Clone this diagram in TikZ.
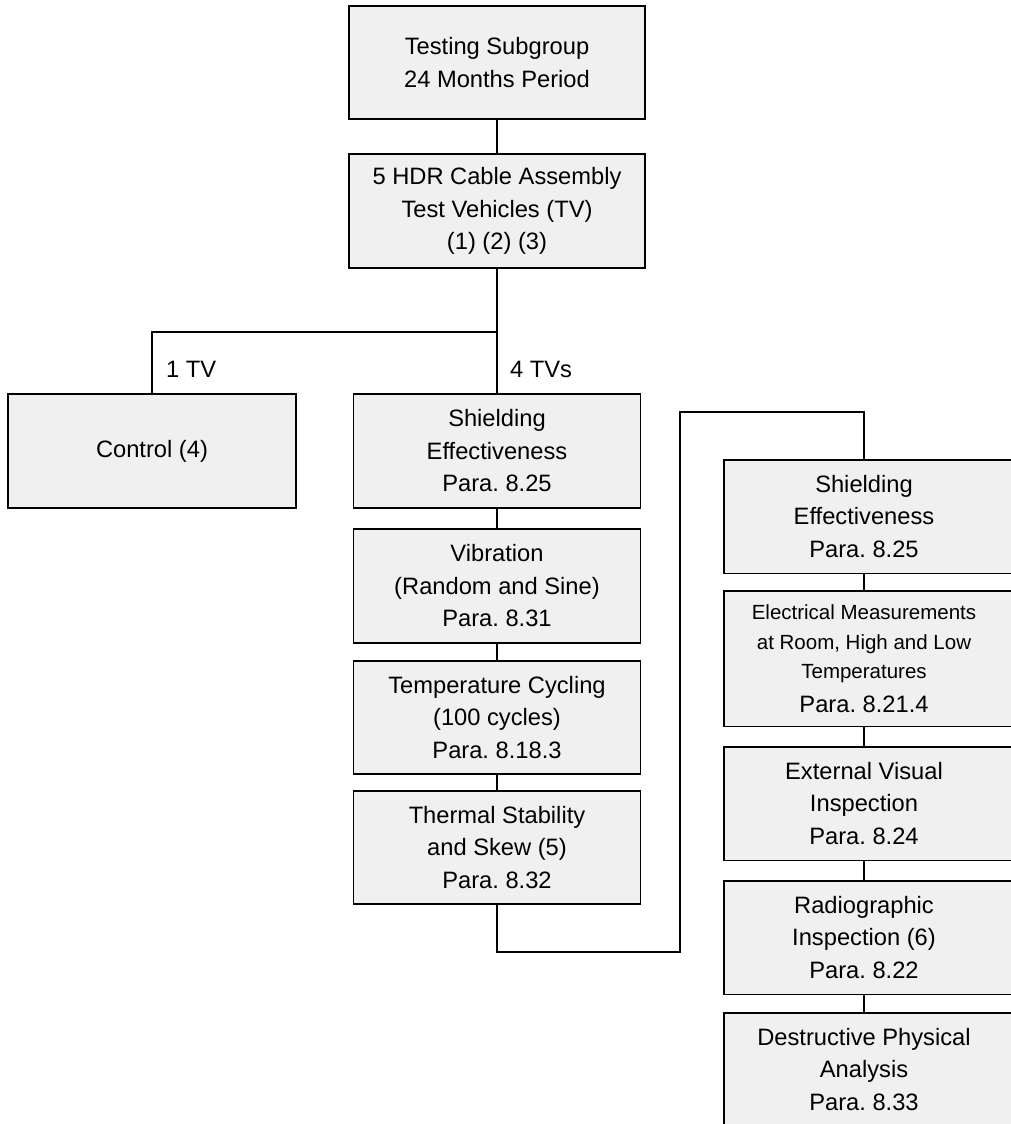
\documentclass[tikz,border=0pt]{standalone}
\usepackage{fontspec}
\setmainfont{Liberation Sans}
\usetikzlibrary{backgrounds}
\definecolor{boxfill}{HTML}{F0F0F0}
\frenchspacing
\tikzset{
  boxline/.style={draw=black, fill=boxfill, line width=1.4pt},
  box/.style={boxline, align=center, inner sep=0pt,
    font=\fontsize{23.7}{32.5}\selectfont},
  rtext/.style={align=center, inner sep=0pt, minimum width=280,
    font=\fontsize{23.7}{32.5}\selectfont},
  wire/.style={line width=1.3pt},
  tag/.style={font=\fontsize{23.7}{32.5}\selectfont, inner sep=0pt, anchor=base west},
}
\begin{document}
\begin{tikzpicture}[x=1pt,y=-1pt]
\useasboundingbox (0,0) rectangle (1010,1124);
\clip (0,0) rectangle (1010,1124);

% main column
\node[box, minimum width=296, minimum height=113] (top) at (497,62.5)
  {Testing Subgroup\\24 Months Period};
\node[box, minimum width=296, minimum height=114] (tv) at (497,211)
  {5 HDR Cable Assembly\\Test Vehicles (TV)\\(1) (2) (3)};

% control branch
\node[box, minimum width=288, minimum height=114] (ctrl) at (152,451)
  {Control (4)};

% first test sequence
\node[box, minimum width=287, minimum height=114] (se1) at (497,451)
  {Shielding\\Effectiveness\\Para. 8.25};
\node[box, minimum width=287, minimum height=114] (vib) at (497,586)
  {Vibration\\(Random and Sine)\\Para. 8.31};
\node[box, minimum width=287, minimum height=113] (tc) at (497,717.5)
  {Temperature Cycling\\(100 cycles)\\Para. 8.18.3};
\node[box, minimum width=287, minimum height=113] (ts) at (497,847.5)
  {Thermal Stability\\and Skew (5)\\Para. 8.32};

% second test sequence (boxes run off the right edge)
\node[rtext, minimum height=113] (r1) at (864,516.5)
  {Shielding\\Effectiveness\\Para. 8.25};
\node[rtext, minimum height=135, font=\fontsize{20.5}{29.5}\selectfont] (r2) at (864,658.5)
  {Electrical Measurements\\at Room, High and Low\\Temperatures\\[4pt]
   \fontsize{23.7}{32.5}\selectfont Para. 8.21.4};
\node[rtext, minimum height=113] (r3) at (864,803.5)
  {External Visual\\Inspection\\Para. 8.24};
\node[rtext, minimum height=113] (r4) at (864,937.5)
  {Radiographic\\Inspection (6)\\Para. 8.22};
\node[rtext, minimum height=113] (r5) at (864,1069.5)
  {Destructive Physical\\Analysis\\Para. 8.33};

\begin{scope}[on background layer]
  \fill[white] (0,0) rectangle (1010,1124);
  \foreach \n in {r1,r2,r3,r4,r5}
    \draw[boxline] (\n.north west) rectangle ([xshift=30pt]\n.south east);
\end{scope}

% branch labels
\node[tag] (oneTV) at (166,377) {1 TV};
\node[tag] (fourTV) at (510,377) {4 TVs};

% connectors
\coordinate (split) at (497,332);
\coordinate (loopB) at (680,952);
\coordinate (loopT) at (680,412);
\draw[wire] (top) -- (tv);
\draw[wire] (tv) -- (split) -| (ctrl);
\draw[wire] (split) -- (se1);
\draw[wire] (se1) -- (vib);
\draw[wire] (vib) -- (tc);
\draw[wire] (tc) -- (ts);
\draw[wire] (ts.south) |- (loopB) -- (loopT) -| (r1.north);
\draw[wire] (r1) -- (r2);
\draw[wire] (r2) -- (r3);
\draw[wire] (r3) -- (r4);
\draw[wire] (r4) -- (r5);
\end{tikzpicture}
\end{document}
